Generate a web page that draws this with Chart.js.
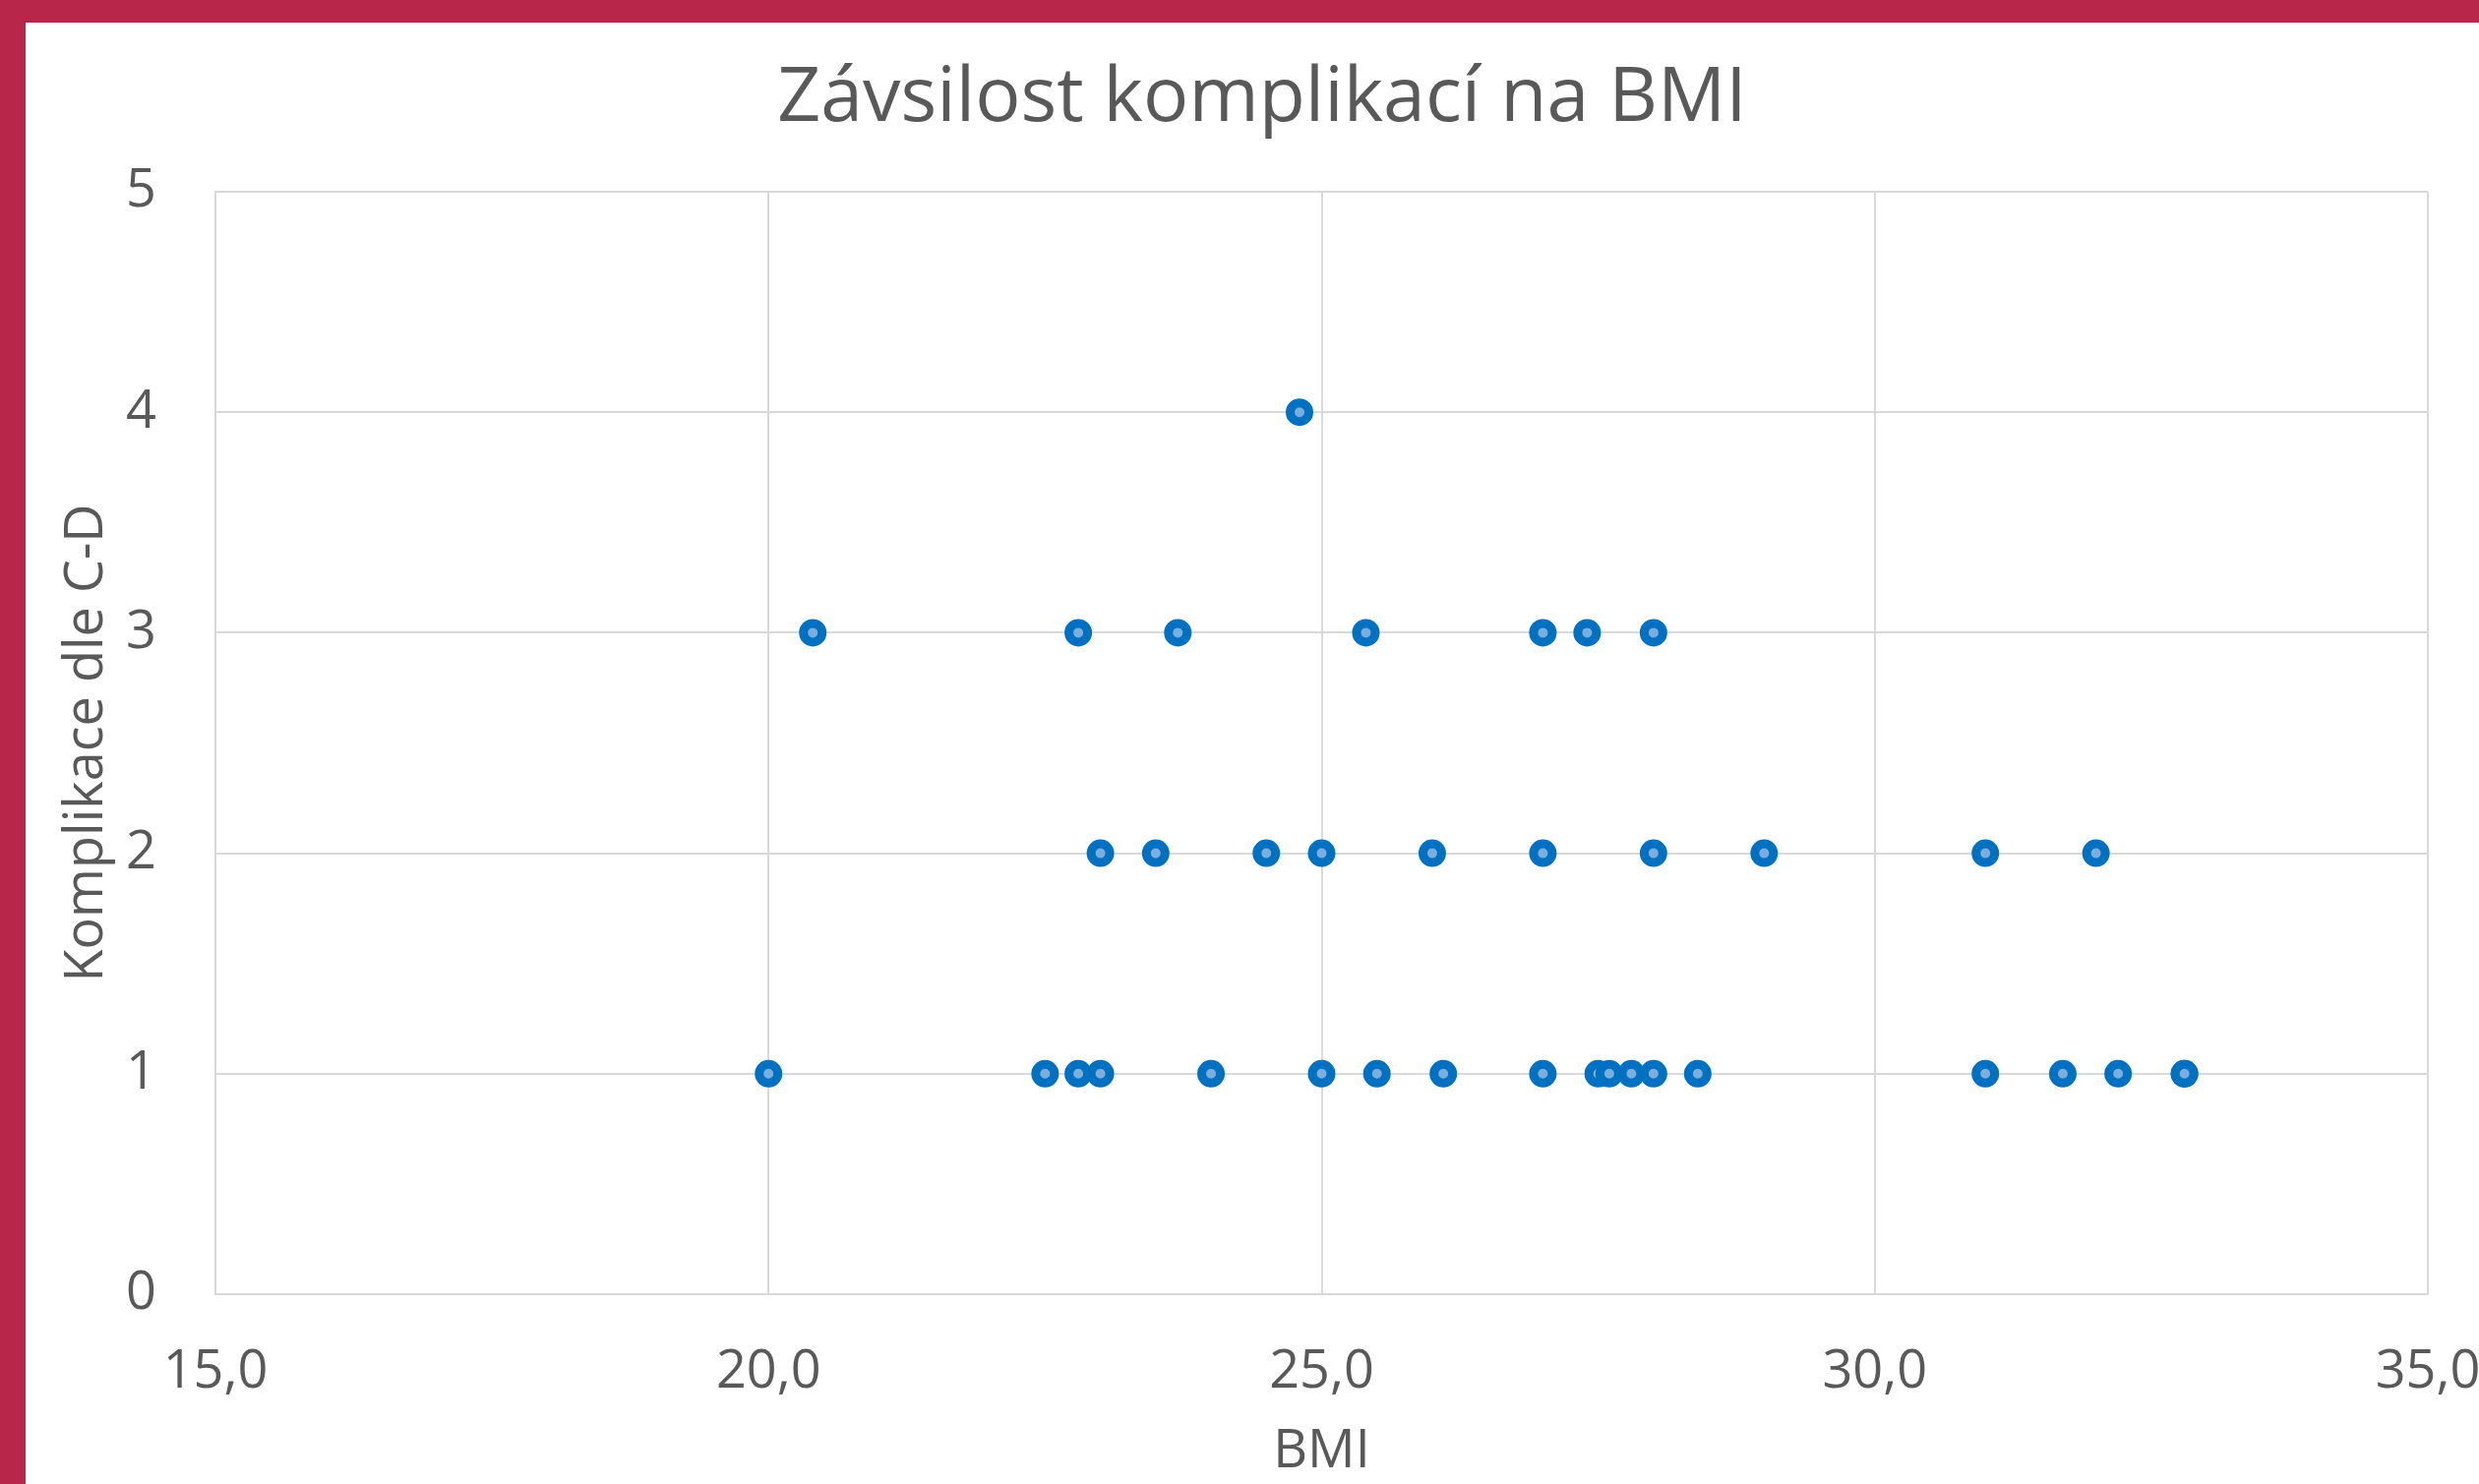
<!DOCTYPE html>
<html>
<head>
<meta charset="utf-8">
<script src="https://cdn.jsdelivr.net/npm/chart.js@4/dist/chart.umd.min.js"></script>
<style>
  html, body { margin: 0; padding: 0; background: #fff; overflow: hidden; }
  body { width: 2520px; height: 1509px; position: relative; }
  #topBar { position: absolute; left: 0; top: 0; width: 2520px; height: 23px; background: #b8274a; }
  #leftBar { position: absolute; left: 0; top: 0; width: 26px; height: 1509px; background: #b8274a; }
  #wrap { position: absolute; left: 26px; top: 23px; width: 2554px; height: 1486px; }
</style>
</head>
<body>
<div id="topBar"></div>
<div id="leftBar"></div>
<div id="wrap"><canvas id="chart" width="2554" height="1486"></canvas></div>
<script>
const titleText = "Závsilost komplikací na BMI";
const xTitle = "BMI";
const yTitle = "Komplikace dle C-D";

// BMI of each patient and their Clavien-Dindo grade (same order)
const bmi = [
  24.8,
  20.4, 22.8, 23.7, 25.4, 27.0, 27.4, 28.0,
  23.0, 23.5, 24.5, 25.0, 26.0, 27.0, 28.0, 29.0, 31.0, 32.0,
  20.0, 22.5, 22.8, 23.0, 24.0, 25.0, 25.5, 26.1, 27.0, 27.5, 27.6, 27.8, 28.0, 28.4, 31.0, 31.7, 32.2, 32.8, 32.8
];
const komplikace = [
  4,
  3, 3, 3, 3, 3, 3, 3,
  2, 2, 2, 2, 2, 2, 2, 2, 2, 2,
  1, 1, 1, 1, 1, 1, 1, 1, 1, 1, 1, 1, 1, 1, 1, 1, 1, 1, 1
];

const xMin = 15, xMax = 35, xStep = 5;
const yMin = 0, yMax = 5, yStep = 1;

const textColor = "#595959";
const gridColor = "#d9d9d9";
const font = "'Open Sans', sans-serif";

const points = bmi.map((b, i) => ({ x: b, y: komplikace[i] }));

// title in the original is centred on the whole chart, not the plot box
const shiftTitle = {
  id: "shiftTitle",
  afterLayout(chart) {
    if (chart.titleBlock) chart.titleBlock.left += 72;
  }
};

new Chart(document.getElementById("chart").getContext("2d"), {
  type: "scatter",
  data: {
    datasets: [
      {
        label: yTitle,
        data: points,
        pointRadius: 9.5,
        pointBorderWidth: 9,
        borderColor: "#0070c0",
        backgroundColor: "#7aaedf",
        pointHoverRadius: 9.5
      }
    ]
  },
  options: {
    responsive: false,
    devicePixelRatio: 1,
    animation: false,
    layout: { padding: { top: 0, left: 0, right: 112, bottom: 0 } },
    plugins: {
      legend: { display: false },
      tooltip: { enabled: false },
      title: {
        display: true,
        text: titleText,
        color: textColor,
        font: { family: font, size: 77, weight: "normal", lineHeight: 1.2 },
        padding: { top: 31.8, bottom: 47.8 }
      }
    },
    scales: {
      x: {
        type: "linear",
        min: xMin,
        max: xMax,
        ticks: {
          stepSize: xStep,
          color: textColor,
          padding: 47,
          maxRotation: 0,
          font: { family: font, size: 54, lineHeight: 1.2 },
          callback: (v) => v.toFixed(1).replace(".", ",")
        },
        grid: { color: gridColor, lineWidth: 2, drawTicks: false },
        border: { color: gridColor, width: 2 },
        title: {
          display: true,
          text: xTitle,
          color: textColor,
          font: { family: font, size: 54, lineHeight: 1.2 },
          padding: { top: 0, bottom: 0 }
        },
        afterFit: (scale) => { scale.height = 193; }
      },
      y: {
        type: "linear",
        min: yMin,
        max: yMax,
        ticks: {
          stepSize: yStep,
          color: textColor,
          padding: 60,
          font: { family: font, size: 54, lineHeight: 1.2 }
        },
        grid: { color: gridColor, lineWidth: 2, drawTicks: false },
        border: { color: gridColor, width: 2 },
        title: {
          display: true,
          text: yTitle,
          color: textColor,
          font: { family: font, size: 54, lineHeight: 1.2 },
          padding: { top: 30, bottom: 0 }
        },
        afterFit: (scale) => { scale.width = 193; }
      }
    }
  },
  plugins: [shiftTitle]
});
</script>
</body>
</html>
